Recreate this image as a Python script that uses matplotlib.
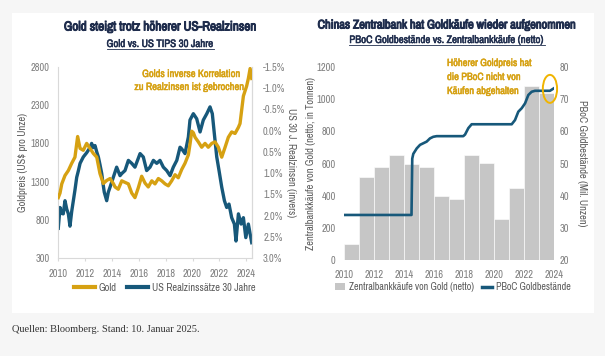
import matplotlib
matplotlib.use('Agg')
import matplotlib.pyplot as plt
from matplotlib import font_manager
from matplotlib.patches import Rectangle, Ellipse, Patch
from matplotlib.lines import Line2D
import matplotlib.patheffects as pe
import matplotlib.ticker as mticker

# Fonts: the reference uses a narrow sans, take the narrowest one installed
fonts = font_manager.fontManager.ttflist
FAM, STRETCH = 'Liberation Sans', 'normal'
for f in fonts:
    if 'Narrow' in f.name and 'Mono' not in f.name:
        FAM, STRETCH = f.name, 'normal'
        break
else:
    for f in fonts:
        if 'Condensed' in f.name and 'Mono' not in f.name and 'Serif' not in f.name:
            FAM, STRETCH = f.name, 'normal'
            break
    else:
        for f in fonts:
            if f.stretch in ('condensed', 'semi-condensed') and 'Mono' not in f.name \
                    and 'Serif' not in f.name:
                FAM, STRETCH = f.name, f.stretch
                break
plt.rcParams['font.family'] = [FAM, 'DejaVu Sans']
plt.rcParams['font.stretch'] = STRETCH

# Colours
GOLD = '#D6A112'
BLUE = '#17587A'
BAR = '#C6C6C6'
NAVY = '#1F2D4D'
TICK = '#7F7F7F'
LABEL = '#595959'

# Left chart: gold price (US$/oz) and US 30y real yield (inverted)
gold_years = [2010.02, 2010.15, 2010.28, 2010.52, 2010.77, 2011.02, 2011.26, 2011.46, 2011.64, 2011.88,
              2012.13, 2012.38, 2012.62, 2012.88, 2013.12, 2013.37, 2013.62, 2013.87, 2014.11, 2014.24,
              2014.48, 2014.74, 2014.98, 2015.23, 2015.48, 2015.72, 2015.97, 2016.22, 2016.47, 2016.71,
              2016.97, 2017.21, 2017.46, 2017.71, 2017.96, 2018.20, 2018.45, 2018.70, 2018.94, 2019.20,
              2019.44, 2019.69, 2019.82, 2019.94, 2020.06, 2020.19, 2020.43, 2020.68, 2020.93, 2021.17,
              2021.43, 2021.67, 2021.92, 2022.17, 2022.42, 2022.66, 2022.91, 2023.16, 2023.41, 2023.53,
              2023.78, 2024.02, 2024.15, 2024.28, 2024.40]
gold_price = [1090, 1150, 1270, 1380, 1445, 1540, 1620, 1890, 1735, 1710,
              1800, 1735, 1670, 1620, 1405, 1275, 1315, 1340, 1275, 1230,
              1200, 1310, 1290, 1270, 1150, 1090, 1220, 1370, 1280, 1230,
              1310, 1270, 1340, 1310, 1270, 1245, 1310, 1390, 1350, 1460,
              1540, 1650, 1800, 1960, 1940, 1880, 1820, 1750, 1800, 1750,
              1800, 1820, 1750, 1620, 1750, 1880, 1950, 1930, 2010, 2060,
              2420, 2550, 2650, 2780, 2650]

rate_years = [2010.02, 2010.15, 2010.28, 2010.39, 2010.52, 2010.65, 2010.77, 2010.89, 2011.02, 2011.14,
              2011.26, 2011.39, 2011.51, 2011.64, 2011.88, 2012.13, 2012.38, 2012.50, 2012.62, 2012.75,
              2012.88, 2013.00, 2013.12, 2013.25, 2013.37, 2013.44, 2013.62, 2013.74, 2013.87, 2014.11,
              2014.36, 2014.61, 2014.74, 2014.98, 2015.23, 2015.48, 2015.72, 2016.10, 2016.34, 2016.59,
              2016.84, 2017.09, 2017.34, 2017.58, 2017.83, 2018.08, 2018.33, 2018.57, 2018.83, 2019.07,
              2019.20, 2019.44, 2019.69, 2019.81, 2020.06, 2020.31, 2020.56, 2020.80, 2021.06, 2021.30,
              2021.47, 2021.62, 2021.80, 2021.97, 2022.17, 2022.37, 2022.54, 2022.71, 2022.91, 2023.11,
              2023.23, 2023.41, 2023.61, 2023.78, 2023.96, 2024.15, 2024.40]
real_rate = [2.30, 1.81, 1.95, 1.96, 1.65, 1.85, 1.96, 2.25, 1.90, 1.65,
             1.40, 1.10, 0.95, 0.77, 0.62, 0.52, 0.40, 0.30, 0.40, 0.35,
             0.50, 0.62, 0.80, 1.01, 1.30, 1.45, 1.65, 1.45, 1.33, 1.10,
             0.86, 1.06, 1.01, 0.94, 0.70, 0.77, 0.86, 0.54, 0.62, 0.94,
             0.86, 0.70, 0.77, 0.70, 0.86, 0.94, 1.06, 0.86, 0.70, 0.39,
             0.43, 0.54, 0.15, -0.25, -0.40, -0.28, 0.03, -0.25, -0.40, -0.56,
             -0.40, 0.07, 0.62, 0.94, 1.33, 1.65, 1.81, 1.73, 2.05, 2.20,
             2.60, 1.96, 2.20, 2.05, 2.52, 2.20, 2.64]

# Right chart: central bank net purchases (t) and PBoC holdings (Mio. oz)
bar_years = [2010, 2011, 2012, 2013, 2014, 2015, 2016, 2017, 2018, 2019, 2020, 2021, 2022, 2023]
cb_purchases = [100, 515, 580, 650, 600, 580, 395, 378, 655, 605, 255, 450, 1080, 1037]

pboc_years = [2010.05, 2014.50, 2014.55, 2014.62, 2014.85, 2015.07, 2015.29, 2015.51, 2015.73, 2015.95,
              2016.18, 2017.95, 2018.07, 2018.29, 2018.51, 2021.18, 2021.40, 2021.62, 2021.85, 2022.07,
              2022.29, 2022.51, 2022.73, 2023.73, 2024.00]
pboc_holdings = [34.0, 34.0, 51.5, 53.0, 54.7, 55.8, 56.3, 56.8, 57.8, 58.3,
                 58.5, 58.5, 59.0, 61.0, 62.2, 62.2, 63.5, 66.1, 67.2, 68.7,
                 71.3, 72.3, 72.6, 72.6, 73.4]

W, H = 605, 356
fig = plt.figure(figsize=(W / 100, H / 100), dpi=100)
fig.patch.set_facecolor('#F6F6F6')
fig.patches.append(Rectangle((12 / W, 1 - 313 / H), 582 / W, 300 / H, transform=fig.transFigure,
                             facecolor='white', edgecolor='none', zorder=-5))


def bold(c, w=0.7):
    return [pe.withStroke(linewidth=w, foreground=c)]


def px_axes(x0, y0, x1, y1):
    return fig.add_axes([x0 / W, 1 - y1 / H, (x1 - x0) / W, (y1 - y0) / H])


def underlined(x, y, s, size):
    t = fig.text(x / W, 1 - y / H, s, ha='center', va='center', fontsize=size, color=NAVY,
                 path_effects=bold(NAVY, 0.35))
    fig.canvas.draw()
    bb = t.get_window_extent()
    ly = (bb.y0 + 0.5) / H
    fig.add_artist(Line2D([bb.x0 / W, bb.x1 / W], [ly, ly], color=NAVY, lw=0.6,
                          transform=fig.transFigure))
    return t


def style(ax, spines):
    for k, sp in ax.spines.items():
        sp.set_visible(k in spines)
        sp.set_color('#D9D9D9')
        sp.set_linewidth(0.8)
    ax.tick_params(colors=TICK, labelsize=7.5, length=0)
    ax.set_facecolor('none')


# ---- left chart ----
ax1 = px_axes(58, 67, 252, 258)
ax1.plot(gold_years, gold_price, color=GOLD, lw=2.4, zorder=3)
ax1.set_xlim(2010, 2024.42)
ax1.set_ylim(300, 2800)
ax1.set_yticks(range(300, 2801, 500))
ax1.set_xticks(range(2010, 2025, 2))
style(ax1, ['left', 'bottom', 'right'])
ax1.tick_params(axis='y', pad=6)
ax1.tick_params(axis='x', pad=6, length=2, color='#D9D9D9')
ax1.set_ylabel('Goldpreis (US$ pro Unze)', fontsize=7.5, color=LABEL)
ax1.yaxis.set_label_coords(-0.155, 0.5)

ax1r = ax1.twinx()
ax1r.plot(rate_years, real_rate, color=BLUE, lw=2.4, zorder=2)
ax1r.set_ylim(3.0, -1.5)
ax1r.set_yticks([-1.5, -1.0, -0.5, 0.0, 0.5, 1.0, 1.5, 2.0, 2.5, 3.0])
ax1r.yaxis.set_major_formatter(mticker.FuncFormatter(lambda v, p: f'{v:.1f}%'))
style(ax1r, ['right'])
ax1r.tick_params(axis='y', pad=8)
ax1r.set_ylabel('US 30 J. Realzinsen (invers)', fontsize=7.5, color=LABEL, rotation=-90,
                va='center')
ax1r.yaxis.set_label_coords(1.20, 0.5)
ax1.set_zorder(ax1r.get_zorder() + 1)

fig.text(191 / W, 1 - 74 / H, 'Golds inverse Korrelation', ha='center', va='center',
         fontsize=7.6, color=GOLD, path_effects=bold(GOLD, 0.35))
fig.text(189 / W, 1 - 87 / H, 'zu Realzinsen ist gebrochen', ha='center', va='center',
         fontsize=7.6, color=GOLD, path_effects=bold(GOLD, 0.35))

fig.text(160 / W, 1 - 27 / H, 'Gold steigt trotz höherer US-Realzinsen', ha='center', va='center',
         fontsize=9.5, color=NAVY, path_effects=bold(NAVY))
underlined(160, 44, 'Gold vs. US TIPS 30 Jahre', 7.8)

fig.legend(handles=[Line2D([], [], color=GOLD, lw=3), Line2D([], [], color=BLUE, lw=3)],
           labels=['Gold', 'US Realzinssätze 30 Jahre'], loc='center',
           bbox_to_anchor=(165 / W, 1 - 288 / H), ncol=2, frameon=False, fontsize=7.5,
           handlelength=2.0, columnspacing=1.0, handletextpad=0.4, labelcolor=LABEL)

# ---- right chart ----
ax2 = px_axes(344, 67, 554, 260)
ax2.bar([y + 0.5 for y in bar_years], cb_purchases, width=1.0, color=BAR, edgecolor='white',
        linewidth=0.4, zorder=1)
ax2.set_xlim(2010, 2024)
ax2.set_ylim(0, 1200)
ax2.set_yticks(range(0, 1201, 200))
ax2.set_xticks(range(2010, 2025, 2))
style(ax2, [])
ax2.tick_params(axis='y', pad=6)
ax2.tick_params(axis='x', pad=7)
ax2.set_ylabel('Zentralbankkäufe von Gold (netto; in Tonnen)', fontsize=7.5, color=LABEL)
ax2.yaxis.set_label_coords(-0.135, 0.5)

ax2r = ax2.twinx()
ax2r.plot(pboc_years, pboc_holdings, color=BLUE, lw=1.9, zorder=3)
ax2r.set_ylim(20, 80)
ax2r.set_yticks(range(20, 81, 10))
style(ax2r, [])
ax2r.tick_params(axis='y', pad=4)
ax2r.set_ylabel('PBoC Goldbestände (Mil. Unzen)', fontsize=7.5, color=LABEL, rotation=-90,
                va='center')
ax2r.yaxis.set_label_coords(1.133, 0.5)
ax2r.add_patch(Ellipse((2023.73, 73.2), 0.95, 8.7, fill=False, edgecolor='#F0B400', lw=1.4,
                       clip_on=False, zorder=4))

for i, line in enumerate(['Höherer Goldpreis hat', 'die PBoC nicht von', 'Käufen abgehalten']):
    fig.text(447 / W, 1 - (63 + 14 * i) / H, line, ha='left', va='center', fontsize=7.5, color=GOLD,
             path_effects=bold(GOLD, 0.35))

fig.text(447 / W, 1 - 25 / H, 'Chinas Zentralbank hat Goldkäufe wieder aufgenommen', ha='center',
         va='center', fontsize=9, color=NAVY, path_effects=bold(NAVY))
underlined(447, 40, 'PBoC Goldbestände vs. Zentralbankkäufe (netto)', 7.8)

fig.legend(handles=[Patch(facecolor=BAR, edgecolor='none'), Line2D([], [], color=BLUE, lw=2.5)],
           labels=['Zentralbankkäufe von Gold (netto)', 'PBoC Goldbestände'], loc='center',
           bbox_to_anchor=(453 / W, 1 - 287 / H), ncol=2, frameon=False, fontsize=7.2,
           handlelength=1.0, handleheight=0.7, columnspacing=0.8, handletextpad=0.4, labelcolor=LABEL)

fig.text(12 / W, 1 - 330 / H, 'Quellen: Bloomberg. Stand: 10. Januar 2025.', ha='left', va='center',
         fontsize=7.5, color='#333333', family=['Liberation Serif', 'DejaVu Serif'])

fig.savefig('out.png', dpi=100, facecolor=fig.get_facecolor())
